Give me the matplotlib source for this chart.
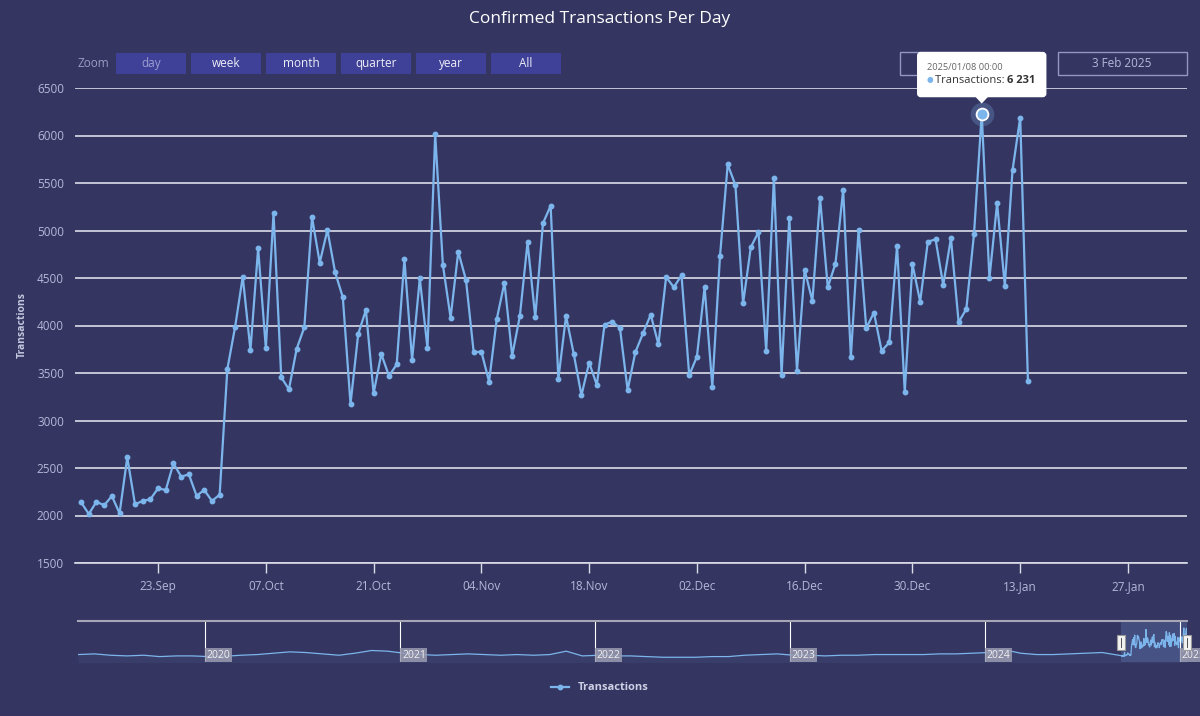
import matplotlib.pyplot as plt
import matplotlib.dates as mdates
from matplotlib.patches import FancyBboxPatch, Rectangle, Polygon
import pandas as pd

plt.rcParams['font.family'] = ['Open Sans', 'DejaVu Sans']

# confirmed transactions per day, 13 Sep 2024 -> 14 Jan 2025
tx = [2139, 2016, 2145, 2107, 2205, 2023, 2612, 2118, 2153, 2171, 2286, 2268, 2549,
      2409, 2433, 2208, 2268, 2153, 2219,
      3542, 3981, 4514, 3742, 4812, 3760, 5181, 3455, 3328, 3753, 3981, 5139, 4661,
      5005, 4560, 4297, 3174, 3911,
      4163, 3286, 3700, 3468, 3591, 4697, 3637, 4497, 3760, 6013, 4637, 4082, 4777,
      4479, 3718, 3725, 3409, 4068, 4451, 3682, 4100,
      4876, 4086, 5076, 5261, 3437, 4100, 3700, 3265, 3609, 3374, 4009, 4041, 3974,
      3321, 3718, 3918, 4114, 3802,
      4511, 4402, 4528, 3476, 3672, 4405, 3356, 4732, 5695, 5479, 4233, 4823, 4984,
      3732, 5553, 3479, 5135, 3524, 4584, 4258,
      5339, 4402, 4652, 5430, 3668, 5005, 3974, 4135, 3732, 3823, 4837, 3303, 4647,
      4251, 4882, 4907, 4426, 4918, 4034, 4174, 4966, 6231, 4497, 5286, 4419, 5634,
      6189, 3419]
start_day = '2024-09-13'

# navigator history, rough monthly values May 2019 -> Aug 2024
nav_hist = [2300, 2400, 2200, 2100, 2200, 2000, 2100, 2100,
            2000, 2050, 2200, 2300, 2500, 2700, 2600, 2400, 2200, 2500, 2900, 2800,
            2500, 2300, 2200, 2300, 2400, 2300, 2200, 2300, 2200, 2300, 2800, 2100,
            2200, 2100, 2100, 2000, 1900, 1900, 1900, 2000, 2000, 2200, 2300, 2400,
            2200, 2200, 2100, 2200, 2200, 2300, 2300, 2300, 2300, 2400, 2400, 2500,
            2600, 3000, 2500, 2300, 2300, 2400, 2500, 2600]

tick_dates = pd.date_range('2024-09-23', '2025-01-27', freq='14D')
year_marks = ['2020', '2021', '2022', '2023', '2024', '2025']
zoom_buttons = ['day', 'week', 'month', 'quarter', 'year', 'All']
range_from, range_to = '12 Sep 2024', '3 Feb 2025'
hover_idx = 117

BG = '#343661'
LINE = '#7cb5ec'
GRID = '#dcdce8'
TXT = '#b4b7da'

days = pd.date_range(start_day, periods=len(tx), freq='D')
nav_days = pd.date_range('2019-05-01', periods=len(nav_hist), freq='MS') + pd.Timedelta(days=7)
view_lo = pd.Timestamp('2024-09-12 05:00')
view_hi = pd.Timestamp('2025-02-03 16:00')

fig = plt.figure(figsize=(12, 7.16), dpi=100, facecolor=BG)

# main chart
ax = fig.add_axes([75/1200, 1-563/716, 1112/1200, 475/716])
ax.set_facecolor(BG)
ax.plot(days, tx, color=LINE, lw=1.6, marker='o', ms=3.2, mec=LINE,
        label='Transactions', zorder=3)
ax.plot(days[hover_idx], tx[hover_idx], 'o', ms=17, color=LINE, alpha=0.25, mew=0, zorder=4)
ax.plot(days[hover_idx], tx[hover_idx], 'o', ms=8.5, mfc=LINE, mec='white', mew=1.3, zorder=5)
ax.set_xlim(view_lo, view_hi)
ax.set_ylim(1500, 6500)
ax.set_yticks(range(1500, 7000, 500))
ax.set_xticks(tick_dates)
ax.xaxis.set_major_formatter(mdates.DateFormatter('%d.%b'))
ax.grid(axis='y', color=GRID, lw=1.2)
ax.set_axisbelow(True)
for s in ['top', 'left', 'right']:
    ax.spines[s].set_visible(False)
ax.spines['bottom'].set_color(GRID)
ax.spines['bottom'].set_linewidth(1.2)
ax.tick_params(axis='y', length=0, labelsize=8.5, labelcolor=TXT, pad=8)
ax.tick_params(axis='x', length=7, width=1, color=GRID, labelsize=8.5, labelcolor=TXT, pad=5)

fig.text(0.5, 1-19/716, 'Confirmed Transactions Per Day', ha='center', va='center',
         fontsize=12.5, color='white')
fig.text(22/1200, 1-325/716, 'Transactions', rotation=90, ha='center', va='center',
         fontsize=7.5, fontweight='bold', color='#c4c6de')

ax.legend(loc='center', bbox_to_anchor=(0.5, 1-688/716), bbox_transform=fig.transFigure,
          frameon=False, handlelength=1.6, prop={'weight': 'bold', 'size': 8},
          labelcolor='#cfd0e6')

# navigator
nav = fig.add_axes([78/1200, 1-662/716, 1109/1200, 41/716])
nav.set_facecolor(BG)
nav_x = nav_days.append(days)
nav_y = nav_hist + tx
nav.plot(nav_x, nav_y, color=LINE, lw=0.9)
nav.fill_between(nav_x, nav_y, 0, color=LINE, alpha=0.06, lw=0)
for y in year_marks:
    d = pd.Timestamp(f'{y}-01-01')
    nav.axvline(d, color='white', lw=0.8)
    nav.text(d + pd.Timedelta(days=3), 0.17, y, transform=nav.get_xaxis_transform(),
             fontsize=7.5, color='#f0f0f0', ha='left', va='center', clip_on=False,
             bbox=dict(boxstyle='square,pad=0.15', fc='#9a9bb0', ec='none', alpha=0.85))
nav.axvspan(view_lo, view_hi, color='#6685c2', alpha=0.3, lw=0)
nav.set_xlim(nav_x[0], days[-1])
nav.set_ylim(1200, 7260)
nav.set_xticks([])
nav.set_yticks([])
for s in ['bottom', 'left', 'right']:
    nav.spines[s].set_visible(False)
nav.spines['top'].set_color('#a6a6b8')
nav.spines['top'].set_linewidth(1.5)

# overlay for the UI bits, in pixel coords
ov = fig.add_axes([0, 0, 1, 1], zorder=10)
ov.set_xlim(0, 1200)
ov.set_ylim(716, 0)
ov.axis('off')

ov.text(78, 63.5, 'Zoom', color='#9a9cc4', fontsize=8.5, va='center')
for i, lab in enumerate(zoom_buttons):
    x = 116 + 75 * i
    ov.add_patch(Rectangle((x, 53), 70, 21, fc='#3f4198', ec='none'))
    ov.text(x + 35, 63.5, lab, ha='center', va='center', fontsize=8.5,
            color='#9c9ed0' if lab == 'day' else '#eeeef8')

ov.add_patch(Rectangle((900, 52), 140, 23, fill=False, ec='#9496c4', lw=1, zorder=1))
ov.add_patch(Rectangle((1058, 52), 129, 23, fill=False, ec='#9496c4', lw=1, zorder=1))
ov.text(970, 63.5, range_from, ha='center', va='center', fontsize=8.5, color=TXT, zorder=2)
ov.text(1122, 63.5, range_to, ha='center', va='center', fontsize=8.5, color=TXT, zorder=2)

# navigator handles at the selection edges
def nav_px(d):
    x, _ = nav.transData.transform((mdates.date2num(d), 0))
    return x

for d in [view_lo, days[-1]]:
    hx = nav_px(d)
    ov.add_patch(Rectangle((hx - 4, 635), 8, 15, fc='#f2f2f2', ec='#999999', lw=0.8))
    ov.plot([hx, hx], [638, 647], color='#333333', lw=0.6)

# tooltip on the hovered point, drawn above everything in the overlay
px, py = ax.transData.transform((mdates.date2num(days[hover_idx]), tx[hover_idx]))
py = 716 - py
ov.add_patch(FancyBboxPatch((px - 64, py - 61), 128, 44, zorder=8,
                            boxstyle='round,pad=0,rounding_size=3', fc='white', ec='white'))
ov.add_patch(Polygon([(px - 7, py - 17.5), (px + 7, py - 17.5), (px, py - 10)],
                     closed=True, fc='white', ec='none', zorder=8))
ov.text(px - 55, py - 46, days[hover_idx].strftime('%Y/%m/%d %H:%M'),
        fontsize=6.7, color='#666666', va='center', zorder=9)
ov.text(px - 55, py - 33, '\u25cf', fontsize=5.5, color=LINE, va='center', zorder=9)
t1 = ov.text(px - 47, py - 33, 'Transactions: ', fontsize=8, color='#333333',
             va='center', zorder=9)
ov.annotate(f'{tx[hover_idx]:,}'.replace(',', ' '), xy=(1, 0.5), xycoords=t1,
            fontsize=8, fontweight='bold', color='#333333', va='center', zorder=9)

fig.savefig('out.png', dpi=100, facecolor=BG)
